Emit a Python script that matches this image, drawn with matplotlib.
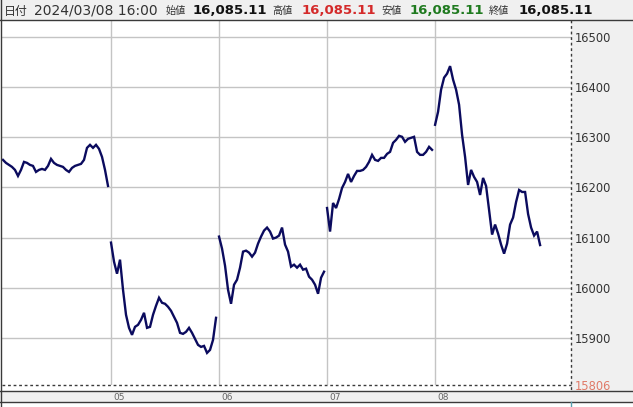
import numpy as np
import matplotlib
matplotlib.use("Agg")
import matplotlib.pyplot as plt
from matplotlib.patches import Rectangle
from matplotlib.lines import Line2D
import matplotlib.transforms as mtransforms

# prices sampled evenly through each session (36 samples per day)
day04 = [16255, 16249, 16245, 16241, 16235, 16223, 16235, 16251, 16249, 16245,
         16243, 16231, 16235, 16237, 16235, 16243, 16257, 16249, 16245, 16243,
         16241, 16235, 16231, 16239, 16243, 16245, 16247, 16255, 16279, 16285,
         16279, 16285, 16277, 16261, 16235, 16203]
day05 = [16090, 16052, 16028, 16056, 15996, 15946, 15920, 15906, 15922, 15926,
         15936, 15950, 15920, 15922, 15946, 15964, 15980, 15970, 15968, 15962,
         15954, 15942, 15930, 15910, 15908, 15912, 15920, 15910, 15898, 15886,
         15882, 15884, 15870, 15876, 15896, 15940]
day06 = [16102, 16078, 16044, 15996, 15968, 16006, 16016, 16040, 16072, 16074,
         16070, 16062, 16070, 16088, 16102, 16114, 16120, 16112, 16098, 16100,
         16104, 16120, 16086, 16072, 16042, 16046, 16040, 16046, 16036, 16038,
         16022, 16016, 16006, 15988, 16020, 16032]
day07 = [16159, 16112, 16169, 16159, 16177, 16199, 16211, 16227, 16211, 16223,
         16233, 16233, 16235, 16241, 16251, 16265, 16255, 16253, 16259, 16259,
         16267, 16271, 16289, 16295, 16303, 16301, 16291, 16297, 16299, 16301,
         16271, 16265, 16265, 16271, 16281, 16275]
day08 = [16325, 16351, 16395, 16419, 16427, 16442, 16415, 16395, 16365, 16305,
         16261, 16205, 16235, 16221, 16211, 16185, 16219, 16203, 16155, 16106,
         16126, 16108, 16086, 16068, 16088, 16126, 16140, 16171, 16195, 16191,
         16191, 16147, 16120, 16104, 16112, 16085.11]
days = [day04, day05, day06, day07, day08]
day_labels = ["05", "06", "07", "08"]
y_ticks = [15900, 16000, 16100, 16200, 16300, 16400, 16500]
y_low = 15806
y_high = 16534

W, H = 633, 407
def fx(px):
    return px / W
def fy(py):
    return 1 - py / H

fig = plt.figure(figsize=(W / 100, H / 100), dpi=100)
fig.patch.set_facecolor("white")

# panels
grey = "#f0f0f0"
fig.add_artist(Rectangle((0, fy(20)), 1, fy(0) - fy(20), transform=fig.transFigure,
                         facecolor=grey, edgecolor="none", zorder=-5))
fig.add_artist(Rectangle((fx(571), fy(391)), 1 - fx(571), fy(20) - fy(391),
                         transform=fig.transFigure, facecolor=grey, edgecolor="none", zorder=-5))
fig.add_artist(Rectangle((0, fy(402)), 1, fy(391) - fy(402), transform=fig.transFigure,
                         facecolor=grey, edgecolor="none", zorder=-5))

ax = fig.add_axes([fx(2), fy(385), fx(571) - fx(2), fy(20) - fy(385)])
ax.set_facecolor("white")
n = len(day04)
ax.set_xlim(-0.33, 5 * n + 9.3)
ax.set_ylim(y_low, y_high)
for s in ax.spines.values():
    s.set_visible(False)

for v in y_ticks:
    ax.axhline(v, color="#c4c4c4", lw=1, zorder=1)
for i in range(1, 5):
    ax.axvline(i * n, color="#c4c4c4", lw=1, zorder=1)

for i, d in enumerate(days):
    x = np.arange(len(d)) + i * n
    ax.plot(x, d, color="#0b0b5e", lw=1.7, zorder=3, solid_joinstyle="miter")

ax.set_xticks([])
ax.yaxis.tick_right()
ax.set_yticks(y_ticks + [y_low])
ax.set_yticklabels([str(v) for v in y_ticks] + [str(y_low)])
ax.tick_params(axis="y", length=0, pad=3, labelsize=8.3, labelcolor="#333333")
ax.get_yticklabels()[-1].set_color("#e07a68")

trans = mtransforms.blended_transform_factory(ax.transData, ax.transAxes)
for i, lab in enumerate(day_labels):
    ax.text((i + 1) * n + 0.8, -0.033, lab, transform=trans, ha="left", va="center",
            fontsize=6.5, color="#666666", clip_on=False)

# frame lines
dark = "#3a3a3a"
def hline(py, x0, x1, **kw):
    fig.add_artist(Line2D([fx(x0), fx(x1)], [fy(py), fy(py)], transform=fig.transFigure,
                          color=kw.pop("color", dark), lw=1, zorder=6, **kw))
def vline(px, y0, y1, **kw):
    fig.add_artist(Line2D([fx(px), fx(px)], [fy(y0), fy(y1)], transform=fig.transFigure,
                          color=kw.pop("color", dark), lw=1, zorder=6, **kw))

hline(20, 0, W)
hline(391, 0, W)
hline(402, 0, W)
vline(1, 0, H)
vline(571, 20, 391, linestyle=(0, (2, 2)))
hline(385, 2, 571, linestyle=(0, (2, 2)))
vline(571, 402, H, color="#5aa0b0")

# header
cjk = ["Noto Sans CJK JP", "DejaVu Sans"]
ty = fy(11)
fig.text(fx(4), ty, "日付", family=cjk, fontsize=8.6, color="#333333", va="center")
fig.text(fx(34), ty, "2024/03/08 16:00", fontsize=10, color="#333333", va="center")
heads = [("始値", 166, 193, "#111111"), ("高値", 272, 302, "#d42a2a"),
         ("安値", 381, 410, "#1f7a1f"), ("終値", 489, 519, "#111111")]
for lab, xl, xv, col in heads:
    fig.text(fx(xl), ty, lab, family=cjk, fontsize=7.3, color="#333333", va="center")
    fig.text(fx(xv), ty, "16,085.11", fontsize=9.5, fontweight="bold", color=col, va="center")

fig.savefig("out.png", dpi=100)
